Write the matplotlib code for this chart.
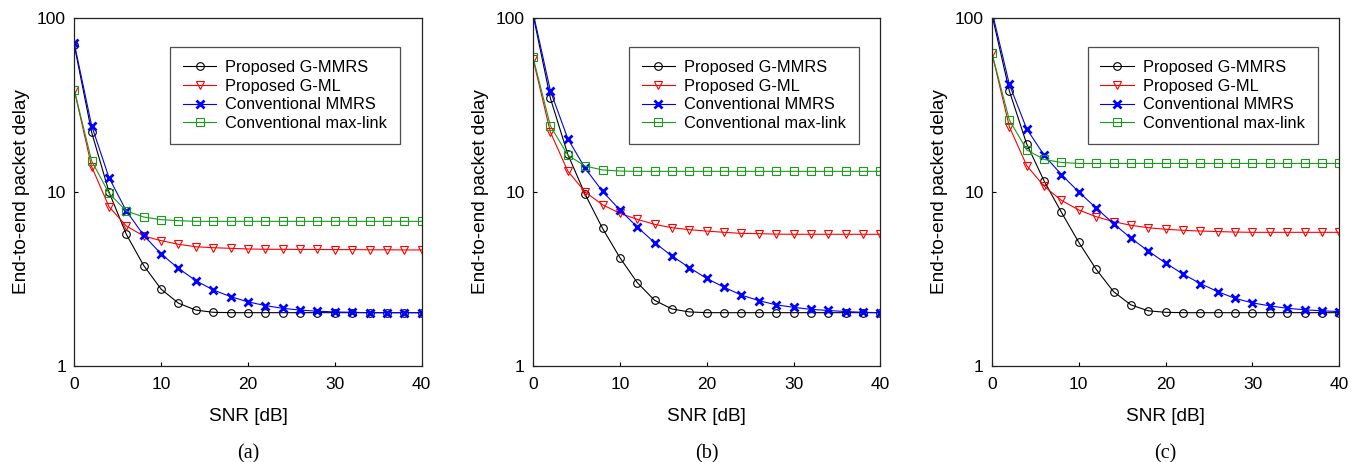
import matplotlib.pyplot as plt
from matplotlib.ticker import FixedLocator, NullLocator, FixedFormatter

plt.rcParams['font.family'] = ['Liberation Sans', 'DejaVu Sans']

snr = list(range(0, 42, 2))
labels = ['Proposed G-MMRS', 'Proposed G-ML', 'Conventional MMRS', 'Conventional max-link']
panel_names = ['(a)', '(b)', '(c)']

# panel (a)
a_gmmrs = [70.2, 22.1, 10.0, 5.70, 3.77, 2.76, 2.29, 2.09, 2.03, 2.02, 2.02,
           2.02, 2.02, 2.02, 2.02, 2.02, 2.02, 2.02, 2.02, 2.02, 2.02]
a_gml = [38.7, 14.0, 8.23, 6.37, 5.58, 5.25, 5.00, 4.84, 4.78, 4.74, 4.70,
         4.68, 4.68, 4.67, 4.67, 4.66, 4.66, 4.65, 4.65, 4.64, 4.64]
a_mmrs = [71.8, 24.1, 12.1, 7.77, 5.63, 4.40, 3.63, 3.09, 2.73, 2.50, 2.33,
          2.22, 2.14, 2.09, 2.06, 2.04, 2.03, 2.02, 2.02, 2.02, 2.02]
a_maxlink = [38.7, 15.1, 9.83, 7.77, 7.18, 6.93, 6.84, 6.78, 6.78, 6.78, 6.78,
             6.78, 6.78, 6.78, 6.78, 6.78, 6.78, 6.78, 6.78, 6.78, 6.78]

# panel (b)
b_gmmrs = [105, 34.6, 16.5, 9.70, 6.18, 4.19, 3.01, 2.38, 2.12, 2.04, 2.02,
           2.02, 2.02, 2.02, 2.02, 2.02, 2.02, 2.02, 2.02, 2.02, 2.02]
b_gml = [58.3, 22.1, 13.2, 10.0, 8.45, 7.54, 6.96, 6.51, 6.23, 6.07, 5.96,
         5.86, 5.78, 5.76, 5.72, 5.71, 5.71, 5.71, 5.71, 5.71, 5.71]
b_mmrs = [108, 38.2, 20.3, 13.7, 10.1, 7.88, 6.29, 5.11, 4.28, 3.67, 3.18,
          2.83, 2.55, 2.37, 2.24, 2.17, 2.11, 2.08, 2.05, 2.03, 2.02]
b_maxlink = [59.6, 24.0, 16.3, 14.1, 13.4, 13.2, 13.15, 13.15, 13.15, 13.15, 13.15,
             13.15, 13.15, 13.15, 13.15, 13.15, 13.15, 13.15, 13.15, 13.15, 13.15]

# panel (c)
c_gmmrs = [105, 38.2, 18.9, 11.6, 7.64, 5.13, 3.59, 2.67, 2.24, 2.07, 2.03,
           2.02, 2.02, 2.02, 2.02, 2.02, 2.02, 2.02, 2.02, 2.02, 2.02]
c_gml = [62.9, 23.8, 14.2, 10.8, 8.95, 7.88, 7.21, 6.75, 6.43, 6.23, 6.10,
         6.02, 5.96, 5.92, 5.88, 5.86, 5.86, 5.86, 5.86, 5.86, 5.86]
c_mmrs = [110, 41.7, 23.1, 16.3, 12.6, 10.0, 8.09, 6.57, 5.43, 4.57, 3.90,
          3.37, 2.97, 2.67, 2.44, 2.30, 2.21, 2.14, 2.10, 2.07, 2.05]
c_maxlink = [62.9, 26.0, 17.5, 15.4, 14.8, 14.6, 14.6, 14.6, 14.6, 14.6, 14.6,
             14.6, 14.6, 14.6, 14.6, 14.6, 14.6, 14.6, 14.6, 14.6, 14.6]

panels = [
    (a_gmmrs, a_gml, a_mmrs, a_maxlink),
    (b_gmmrs, b_gml, b_mmrs, b_maxlink),
    (c_gmmrs, c_gml, c_mmrs, c_maxlink),
]

styles = [
    dict(color='black', marker='o', mfc='none', ms=5.5, mew=0.8),
    dict(color='red', marker='v', mfc='none', ms=6, mew=0.8),
    dict(color='blue', marker='x', ms=5.5, mew=2.0),
    dict(color='#1a9a1a', marker='s', mfc='none', ms=5.5, mew=0.8),
]

fig = plt.figure(figsize=(13.65, 4.62), dpi=100)
lefts = [0.0544, 0.3905, 0.7267]

for left, series, name in zip(lefts, panels, panel_names):
    ax = fig.add_axes([left, 0.2084, 0.2545, 0.752])
    for ys, lab, st in zip(series, labels, styles):
        ax.plot(snr, ys, lw=0.8, label=lab, **st)
    ax.set_yscale('log')
    ax.set_xlim(0, 40)
    ax.set_ylim(1, 100)
    ax.xaxis.set_major_locator(FixedLocator([0, 10, 20, 30, 40]))
    ax.yaxis.set_major_locator(FixedLocator([1, 10, 100]))
    ax.yaxis.set_major_formatter(FixedFormatter(['1', '10', '100']))
    ax.yaxis.set_minor_locator(NullLocator())
    ax.tick_params(direction='in', length=3, width=0.8, labelsize=12.5)
    ax.tick_params(axis='x', pad=8)
    ax.tick_params(axis='y', pad=6)
    for sp in ax.spines.values():
        sp.set_color('#222222')
        sp.set_linewidth(0.9)
    ax.set_xlabel('SNR [dB]', fontsize=13.7, labelpad=12)
    ax.set_ylabel('End-to-end packet delay', fontsize=13.7, labelpad=5)
    leg = ax.legend(loc='upper left', bbox_to_anchor=(0.2756, 0.9165),
                    fontsize=11.8, frameon=True, fancybox=False,
                    handlelength=2.05, handletextpad=0.55, labelspacing=0.22,
                    borderpad=0.78, borderaxespad=0)
    leg.get_frame().set_edgecolor('#222222')
    leg.get_frame().set_linewidth(0.9)
    ax.annotate(name, xy=(0.5, 0), xycoords='axes fraction',
                xytext=(0, -88), textcoords='offset pixels',
                ha='center', va='center', fontsize=14.5, family='Liberation Serif')

fig.savefig('out.png', dpi=100)
